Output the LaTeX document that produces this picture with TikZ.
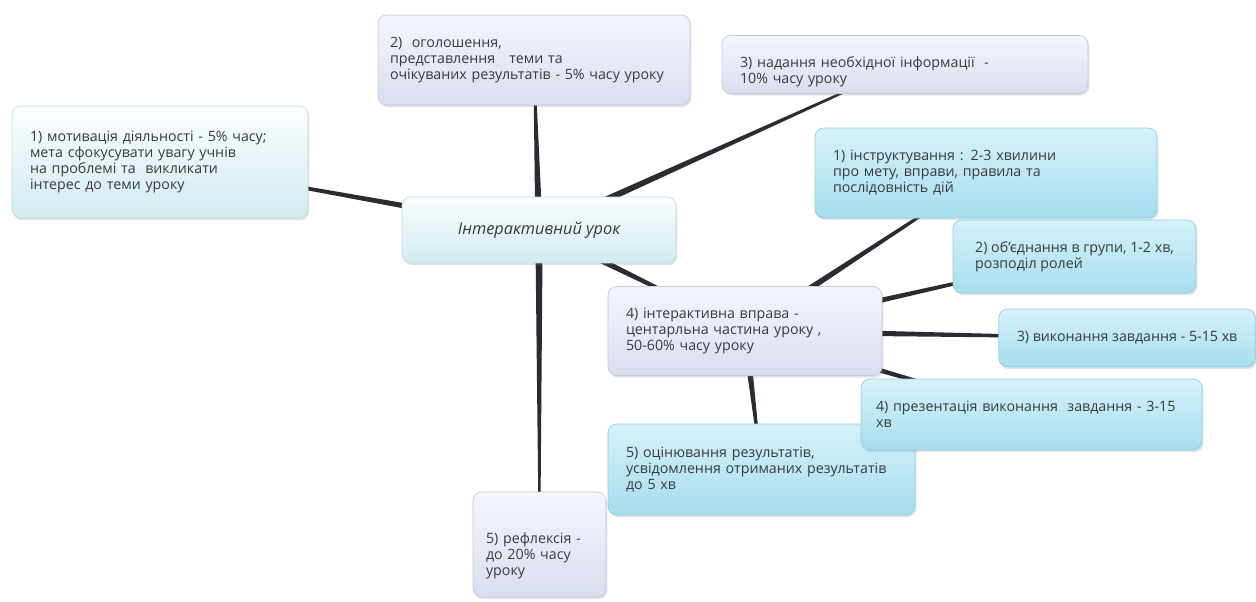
\documentclass[tikz,border=0pt]{standalone}
\usepackage{fontspec}
\setmainfont{Open Sans}
\usepackage{xcolor}
\usetikzlibrary{calc,shadows,backgrounds}

\definecolor{inkgray}{HTML}{3A3A3A}
\definecolor{branchgray}{HTML}{2B2B33}
\definecolor{cyantop}{HTML}{D6F2FA}
\definecolor{cyanbot}{HTML}{A6DDEF}
\definecolor{cyanline}{HTML}{93CFE3}
\definecolor{paletop}{HTML}{FBFDFE}
\definecolor{palebot}{HTML}{D0EBF0}
\definecolor{paleline}{HTML}{C6DCE2}
\definecolor{lavtop}{HTML}{F5F6FC}
\definecolor{lavbot}{HTML}{D9DEF0}
\definecolor{lavline}{HTML}{C4C9DE}

\tikzset{
  mapbox/.style={rounded corners=5pt, align=left, text=inkgray,
    font=\fontsize{8.1}{9.1}\selectfont, inner xsep=0.36cm, inner ysep=4pt,
    drop shadow={opacity=.22, shadow xshift=.8pt, shadow yshift=-1.2pt}},
  cyanbox/.style={mapbox, draw=cyanline, top color=cyantop, bottom color=cyanbot},
  palebox/.style={mapbox, draw=paleline, top color=paletop, bottom color=palebot},
  lavbox/.style={mapbox, draw=lavline, top color=lavtop, bottom color=lavbot},
  branch/.style={fill=branchgray}
}

% tapered branch from parent #1 to child #2
\newcommand\branch[2]{%
  \fill[branch] ($(#1)!2.1pt!90:(#2)$) -- ($(#2)!0.4pt!-90:(#1)$)
    -- ($(#2)!0.4pt!90:(#1)$) -- ($(#1)!2.1pt!-90:(#2)$) -- cycle;}

\begin{document}
\begin{tikzpicture}[x=0.02cm,y=-0.02cm]
  \useasboundingbox (0,0) rectangle (1256,601);

  \node[palebox, minimum width=5.92cm, minimum height=2.24cm, text width=5.20cm] (motiv) at (160,162)
    {1) мотивація діяльності - 5\% часу;\\мета сфокусувати увагу учнів\\на проблемі та\ \ викликати\\інтерес до теми уроку};
  \node[lavbox, minimum width=6.24cm, minimum height=1.80cm, text width=5.76cm, inner xsep=0.24cm] (announce) at (534,60)
    {2)\ \ оголошення,\\представлення\ \ \ теми та\\очікуваних результатів - 5\% часу уроку};
  \node[lavbox, minimum width=7.32cm, minimum height=1.10cm, text width=6.60cm] (inform) at (905,64.5)
    {\rule{0pt}{14pt}3) надання необхідної інформації\ \ -\\10\% часу уроку};
  \node[palebox, minimum width=5.48cm, minimum height=1.32cm, align=center,
    font=\fontsize{9.3}{11}\selectfont\itshape] (lesson) at (539,230) {Інтерактивний урок};

  \node[lavbox, minimum width=5.48cm, minimum height=1.78cm, text width=4.76cm] (exercise) at (745,331)
    {4) інтерактивна вправа -\\центарльна частина уроку ,\\50-60\% часу уроку};
  \node[lavbox, minimum width=2.66cm, minimum height=2.10cm, text width=2.14cm, inner xsep=0.26cm] (reflect) at (539.5,544.5)
    {\rule{0pt}{19pt}5) рефлексія -\\до 20\% часу\\уроку};

  \node[cyanbox, minimum width=6.84cm, minimum height=1.80cm, text width=6.12cm] (instruct) at (986,173)
    {1) інструктування : 2-3 хвилини\\про мету, вправи, правила та\\послідовність дій};
  \node[cyanbox, minimum width=4.86cm, minimum height=1.46cm] (groups) at (1074.5,256.5)
    {2) об’єднання в групи, 1-2 хв,\\розподіл ролей};
  \node[cyanbox, minimum width=5.08cm, minimum height=1.16cm] (perform) at (1127,338)
    {3) виконання завдання - 5-15 хв};
  \node[cyanbox, minimum width=6.14cm, minimum height=1.82cm, text width=5.42cm] (assess) at (761.5,469.5)
    {5) оцінювання результатів,\\усвідомлення отриманих результатів\\до 5 хв};
  \node[cyanbox, minimum width=6.82cm, minimum height=1.42cm, text width=6.22cm, inner xsep=0.3cm] (present) at (1031.5,414.5)
    {4) презентація виконання\ \ завдання - 3-15\\хв};

  \begin{scope}[on background layer]
    \fill[white] (0,0) rectangle (1256,601);
    \branch{lesson}{motiv}
    \branch{lesson}{announce}
    \branch{lesson}{inform}
    \branch{lesson}{exercise}
    \branch{lesson}{reflect}
    \branch{exercise}{instruct}
    \branch{exercise}{groups}
    \branch{exercise}{perform}
    \branch{exercise}{present}
    \branch{exercise}{assess}
  \end{scope}
\end{tikzpicture}
\end{document}
